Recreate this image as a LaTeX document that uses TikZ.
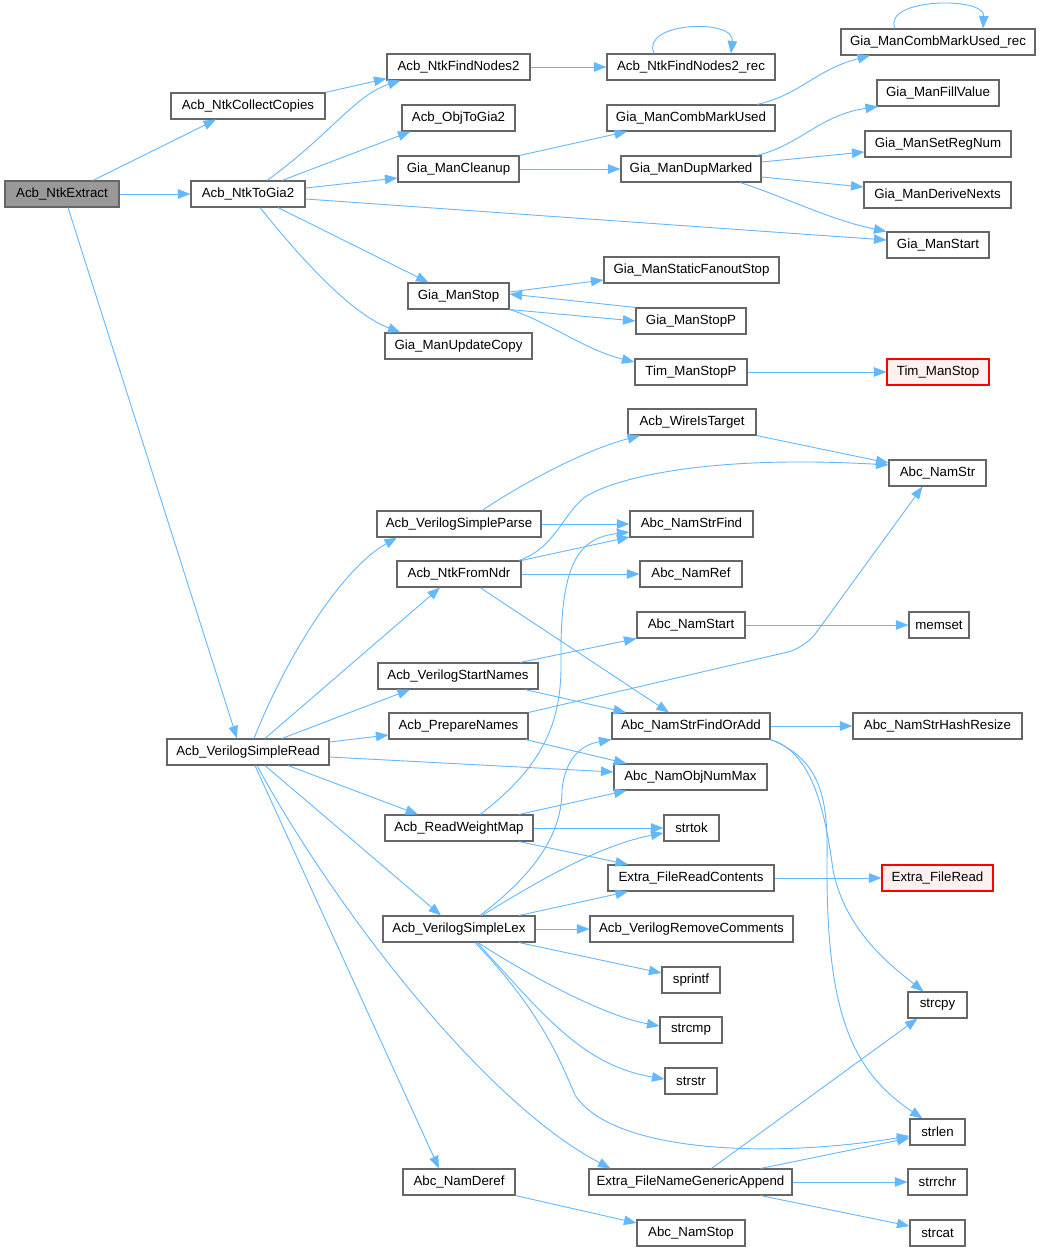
\documentclass[tikz,border=0pt]{standalone}
\usepackage{fontspec}
\setmainfont{Liberation Sans}
\usetikzlibrary{arrows.meta}
\definecolor{edgecol}{HTML}{63B8FF}
\definecolor{boxborder}{HTML}{666666}
\definecolor{rootfill}{HTML}{999999}
\definecolor{redfill}{HTML}{FFF0F0}
\tikzset{
  box/.style={draw=boxborder, fill=white, line width=1.1pt, minimum height=26pt, inner sep=0pt, font=\fontsize{13.3}{15}\selectfont},
  redbox/.style={box, draw=red, fill=redfill},
  conn/.style={draw=edgecol, line width=0.9pt, -{Triangle[length=12.5pt,width=9.5pt]}}
}
\begin{document}
\begin{tikzpicture}[x=1pt,y=-1pt]
\fill[white] (0,0) rectangle (1040,1252);
\useasboundingbox (0,0) rectangle (1040,1252);
% column 1
\node[box, minimum width=114pt, fill=rootfill] (ext) at (62,194) {Acb\_NtkExtract};
% column 2
\node[box, minimum width=154pt] (ncc) at (248,106) {Acb\_NtkCollectCopies};
\node[box, minimum width=114pt] (ntg) at (248,194) {Acb\_NtkToGia2};
\node[box, minimum width=162pt] (vsr) at (248,752) {Acb\_VerilogSimpleRead};
% column 3
\node[box, minimum width=143pt] (nfn) at (458.5,67) {Acb\_NtkFindNodes2};
\node[box, minimum width=113pt] (otg) at (458.5,118) {Acb\_ObjToGia2};
\node[box, minimum width=121pt] (gcl) at (458.5,169) {Gia\_ManCleanup};
\node[box, minimum width=101pt] (gms) at (458.5,296) {Gia\_ManStop};
\node[box, minimum width=147pt] (guc) at (458.5,346) {Gia\_ManUpdateCopy};
\node[box, minimum width=164pt] (vsp) at (459,524) {Acb\_VerilogSimpleParse};
\node[box, minimum width=124pt] (nfd) at (459,574) {Acb\_NtkFromNdr};
\node[box, minimum width=160pt] (vsn) at (458,676) {Acb\_VerilogStartNames};
\node[box, minimum width=139pt] (pn) at (458.5,726) {Acb\_PrepareNames};
\node[box, minimum width=148pt] (rwm) at (459,828) {Acb\_ReadWeightMap};
\node[box, minimum width=152pt] (vsl) at (459,929) {Acb\_VerilogSimpleLex};
\node[box, minimum width=112pt] (nde) at (459,1182) {Abc\_NamDeref};
% column 4
\node[box, minimum width=168pt] (nfr) at (691,67) {Acb\_NtkFindNodes2\_rec};
\node[box, minimum width=168pt] (gcm) at (691,118) {Gia\_ManCombMarkUsed};
\node[box, minimum width=140pt] (gdm) at (691,169) {Gia\_ManDupMarked};
\node[box, minimum width=175pt] (gsf) at (691.5,270) {Gia\_ManStaticFanoutStop};
\node[box, minimum width=110pt] (gsp) at (691,321) {Gia\_ManStopP};
\node[box, minimum width=112pt] (tsp) at (691,372) {Tim\_ManStopP};
\node[box, minimum width=128pt] (wit) at (692,422) {Acb\_WireIsTarget};
\node[box, minimum width=123pt] (nsf) at (691.5,524) {Abc\_NamStrFind};
\node[box, minimum width=102pt] (nrf) at (691,574) {Abc\_NamRef};
\node[box, minimum width=108pt] (nst) at (691,625) {Abc\_NamStart};
\node[box, minimum width=158pt] (nfa) at (691,726) {Abc\_NamStrFindOrAdd};
\node[box, minimum width=153pt] (non) at (690.5,777) {Abc\_NamObjNumMax};
\node[box, minimum width=55pt] (tok) at (691.5,828) {strtok};
\node[box, minimum width=166pt] (frc) at (691,878) {Extra\_FileReadContents};
\node[box, minimum width=203pt] (rmc) at (691.5,929) {Acb\_VerilogRemoveComments};
\node[box, minimum width=58pt] (spf) at (691,980) {sprintf};
\node[box, minimum width=62pt] (cmp) at (691,1030) {strcmp};
\node[box, minimum width=52pt] (sst) at (691,1081) {strstr};
\node[box, minimum width=203pt] (fga) at (690.5,1182) {Extra\_FileNameGenericAppend};
\node[box, minimum width=108pt] (nsp) at (691,1233) {Abc\_NamStop};
% column 5
\node[box, minimum width=194pt] (gcr) at (938,42) {Gia\_ManCombMarkUsed\_rec};
\node[box, minimum width=122pt] (gfv) at (938,93) {Gia\_ManFillValue};
\node[box, minimum width=146pt] (gsr) at (938,144) {Gia\_ManSetRegNum};
\node[box, minimum width=147pt] (gdn) at (937.5,195) {Gia\_ManDeriveNexts};
\node[box, minimum width=102pt] (gst) at (938,245) {Gia\_ManStart};
\node[redbox, minimum width=102pt] (tms) at (938,372) {Tim\_ManStop};
\node[box, minimum width=97pt] (nstr) at (937.5,473) {Abc\_NamStr};
\node[box, minimum width=60pt] (mem) at (939,625) {memset};
\node[box, minimum width=169pt] (hrs) at (937.5,726) {Abc\_NamStrHashResize};
\node[redbox, minimum width=111pt] (frd) at (937.5,878) {Extra\_FileRead};
\node[box, minimum width=59pt] (cpy) at (937.5,1005) {strcpy};
\node[box, minimum width=55pt] (len) at (937.5,1132) {strlen};
\node[box, minimum width=59pt] (rch) at (937.5,1182) {strrchr};
\node[box, minimum width=55pt] (cat) at (937.5,1233) {strcat};

% ---- edges, top part
\draw[conn] ([xshift=31pt]ext.north) -- ([xshift=-32pt]ncc.south);
\draw[conn] (ext.east) -- (ntg.west);
\draw[conn] ([xshift=6pt]ext.south) -- ([xshift=-11pt]vsr.north);
\draw[conn] (ncc.north east) -- ([yshift=2pt]nfn.south west);
\draw[conn] ([xshift=19pt]ntg.north) .. controls (330,135) and (355,95) .. ([xshift=-58pt]nfn.south);
\draw[conn] ([xshift=34pt]ntg.north) -- ([xshift=-48pt]otg.south);
\draw[conn] ([yshift=6pt]ntg.east) -- ([yshift=-9pt]gcl.west);
\draw[conn] ([yshift=-5pt]ntg.east) -- ([yshift=5pt]gst.west);
\draw[conn] ([xshift=30pt]ntg.south) -- ([xshift=-30pt]gms.north);
\draw[conn] ([xshift=12pt]ntg.south) .. controls (310,270) and (355,315) .. ([xshift=-58pt]guc.north);
\draw[conn] (nfn.east) -- (nfr.west);
\draw[conn] ([xshift=-37pt]nfr.north) .. controls (640,22) and (735,18) .. ([xshift=40pt]nfr.north);
\draw[conn] (gcl.north east) -- ([xshift=-64pt]gcm.south);
\draw[conn] (gcl.east) -- (gdm.west);
\draw[conn] ([xshift=66pt]gcm.north) .. controls (800,95) and (815,70) .. ([xshift=-68pt]gcr.south);
\draw[conn] ([xshift=-43pt]gcr.north) .. controls (882,-2) and (985,-4) .. ([xshift=45pt]gcr.north);
\draw[conn] ([xshift=66pt]gdm.north) .. controls (800,145) and (820,115) .. ([xshift=-60pt]gfv.south);
\draw[conn] ([yshift=7pt]gdm.east) -- ([yshift=-8pt]gsr.west);
\draw[conn] ([yshift=-8pt]gdm.east) -- ([yshift=8pt]gdn.west);
\draw[conn] ([xshift=49pt]gdm.south) .. controls (780,195) and (830,220) .. (gst.north west);
\draw[conn] ([yshift=4pt]gms.east) -- ([yshift=-10pt]gsf.west);
\draw[conn] (gsp.north west) -- ([yshift=2pt]gms.east);
\draw[conn] (gms.south east) -- (gsp.west);
\draw[conn] (gms.south east) .. controls (545,320) and (585,350) .. ([yshift=10pt]tsp.west);
\draw[conn] (tsp.east) -- (tms.west);

% ---- edges, lower part
\draw[conn] ([xshift=6pt]vsr.north) .. controls (285,660) and (340,570) .. ([xshift=-62pt]vsp.south);
\draw[conn] ([xshift=17pt]vsr.north) -- ([xshift=-19pt]nfd.south);
\draw[conn] ([xshift=34pt]vsr.north) -- ([xshift=-48pt]vsn.south);
\draw[conn] ([yshift=10pt]vsr.east) -- ([yshift=-9pt]pn.west);
\draw[conn] ([yshift=-5pt]vsr.east) -- ([yshift=5pt]non.west);
\draw[conn] ([xshift=40pt]vsr.south) -- ([xshift=-41pt]rwm.north);
\draw[conn] ([xshift=17pt]vsr.south) -- ([xshift=-18pt]vsl.north);
\draw[conn] ([xshift=7pt]vsr.south) -- ([xshift=-20pt]nde.north);
\draw[conn] ([xshift=9pt]vsr.south) .. controls (330,900) and (480,1100) .. ([xshift=-80pt]fga.north);

\draw[conn] ([xshift=23pt]vsp.north) .. controls (525,482) and (585,450) .. ([xshift=-52pt]wit.south);
\draw[conn] (vsp.east) -- (nsf.west);
\draw[conn] ([xshift=60pt]nfd.north) .. controls (555,548) and (562,515) .. (585,497) .. controls (620,475) and (720,455) .. ([yshift=8pt]nstr.west);
\draw[conn] (nfd.north east) -- ([yshift=-13pt]nsf.west);
\draw[conn] (nfd.east) -- (nrf.west);
\draw[conn] ([xshift=21pt]nfd.south) -- ([xshift=-22pt]nfa.north);
\draw[conn] ([xshift=62pt]vsn.north) -- (nst.south west);
\draw[conn] ([xshift=67pt]vsn.south) -- ([xshift=-65pt]nfa.north);
\draw[conn, rounded corners=18pt] (pn.north east) -- (805,648) -- ([xshift=-15pt]nstr.south);
\draw[conn] ([xshift=-3pt]pn.south east) -- ([xshift=-64pt]non.north);
\draw[conn] ([xshift=21pt]rwm.north) .. controls (545,765) and (562,720) .. (561,660) .. controls (560,560) and (580,538) .. ([yshift=-8pt]nsf.west);
\draw[conn] ([xshift=60pt]rwm.north) -- ([xshift=-64pt]non.south);
\draw[conn] (rwm.east) -- (tok.west);
\draw[conn] ([xshift=60pt]rwm.south) -- ([xshift=-63pt]frc.north);
\draw[conn] ([xshift=21pt]vsl.north) .. controls (540,870) and (562,830) .. (562,790) .. controls (565,760) and (580,745) .. (nfa.south west);
\draw[conn] ([xshift=23pt]vsl.north) .. controls (540,880) and (600,845) .. ([yshift=-5pt]tok.west);
\draw[conn] ([xshift=60pt]vsl.north) -- ([xshift=-63pt]frc.south);
\draw[conn] (vsl.east) -- (rmc.west);
\draw[conn] ([xshift=60pt]vsl.south) -- ([yshift=7pt]spf.west);
\draw[conn] ([xshift=19pt]vsl.south) .. controls (520,970) and (600,1015) .. ([yshift=4pt]cmp.west);
\draw[conn] ([xshift=18pt]vsl.south) .. controls (540,1010) and (580,1065) .. ([yshift=2pt]sst.west);
\draw[conn] ([xshift=16pt]vsl.south) .. controls (540,1010) and (560,1060) .. (575,1095) .. controls (610,1150) and (760,1160) .. ([yshift=-4pt]len.west);
\draw[conn] (nde.south east) -- ([yshift=10pt]nsp.west);
\draw[conn] (nfa.east) -- (hrs.west);
\draw[conn] (nfa.south east) .. controls (812,752) and (825,810) .. (833,870) .. controls (845,930) and (890,965) .. ([xshift=-14pt]cpy.north);
\draw[conn] (nfa.south east) .. controls (822,760) and (828,800) .. (827,860) .. controls (826,1010) and (850,1070) .. ([xshift=-15pt]len.north);
\draw[conn] (frc.east) -- (frd.west);
\draw[conn] (nst.east) -- (mem.west);
\draw[conn] (wit.south east) -- ([yshift=10pt]nstr.west);
\draw[conn] ([xshift=21pt]fga.north) -- ([xshift=-20pt]cpy.south);
\draw[conn] ([xshift=70pt]fga.north) -- ([yshift=-6pt]len.west);
\draw[conn] (fga.east) -- (rch.west);
\draw[conn] ([xshift=70pt]fga.south) -- ([yshift=7pt]cat.west);
\end{tikzpicture}
\end{document}
